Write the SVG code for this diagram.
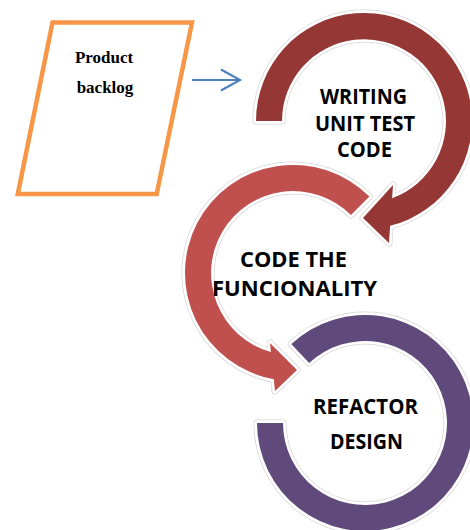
<svg xmlns="http://www.w3.org/2000/svg" xmlns:xlink="http://www.w3.org/1999/xlink" width="470" height="530" viewBox="0 0 470 530">
<style>
.halo{fill:none;stroke:#d6d6d6;stroke-width:7;stroke-linejoin:round}
.edge{fill:none;stroke:#ffffff;stroke-width:5.5;stroke-linejoin:round}
.lbl{font-family:"Open Sans","Liberation Sans",Arial,sans-serif;font-weight:bold;font-size:21px;fill:#000;text-anchor:middle}
.pb{font-family:"Liberation Serif","Times New Roman",serif;font-weight:bold;font-size:17px;fill:#000;text-anchor:middle}
</style>
<defs>
<path id="ring1" d="M256,121 A108,108 0 1 1 390.1,225.8 L389,243 L363,218 L393,185 L392.1,198.2 A82,82 0 1 0 282,121 Z"/>
<path id="ring2" d="M369.4,196.6 A108,108 0 1 0 273.8,379.2 L275,391 L297,370 L270,343 L270.9,352 A82,82 0 1 1 351,215 Z"/>
<path id="ring3" d="M291.3,344 A108,108 0 1 1 257,423 L283,423 A82,82 0 1 0 309.1,363 Z"/>
</defs>
<rect width="470" height="530" fill="#ffffff"/>
<g id="product-backlog">
<polygon points="52.5,22.5 192,22.5 156.7,194 17.8,194" fill="#ffffff" stroke="#F79646" stroke-width="4.5"/>
<text class="pb" x="104" y="63">Product</text>
<text class="pb" x="105" y="93">backlog</text>
</g>
<g id="connectors">
<path d="M192,80 H239 M221,69.5 L240,80 L221,90.5" fill="none" stroke="#4F81BD" stroke-width="2.2"/>
</g>
<g id="writing-unit-test-code">
<use xlink:href="#ring1" class="halo"/>
<use xlink:href="#ring1" class="edge"/>
<use xlink:href="#ring1" fill="#953735"/>
<text class="lbl" x="363.5" y="104" textLength="87" lengthAdjust="spacingAndGlyphs">WRITING</text>
<text class="lbl" x="365" y="131" textLength="100" lengthAdjust="spacingAndGlyphs">UNIT TEST</text>
<text class="lbl" x="364.5" y="157" textLength="55" lengthAdjust="spacingAndGlyphs">CODE</text>
</g>
<g id="code-the-funcionality">
<use xlink:href="#ring2" class="halo"/>
<use xlink:href="#ring2" class="edge"/>
<use xlink:href="#ring2" fill="#C0504D"/>
<text class="lbl" x="293.5" y="267" textLength="107" lengthAdjust="spacingAndGlyphs">CODE THE</text>
<text class="lbl" x="294.5" y="296" textLength="165" lengthAdjust="spacingAndGlyphs">FUNCIONALITY</text>
</g>
<g id="refactor-design">
<use xlink:href="#ring3" class="halo"/>
<use xlink:href="#ring3" class="edge"/>
<use xlink:href="#ring3" fill="#604A7B"/>
<text class="lbl" x="365.5" y="414" textLength="105" lengthAdjust="spacingAndGlyphs">REFACTOR</text>
<text class="lbl" x="366.5" y="449" textLength="73" lengthAdjust="spacingAndGlyphs">DESIGN</text>
</g>
</svg>
